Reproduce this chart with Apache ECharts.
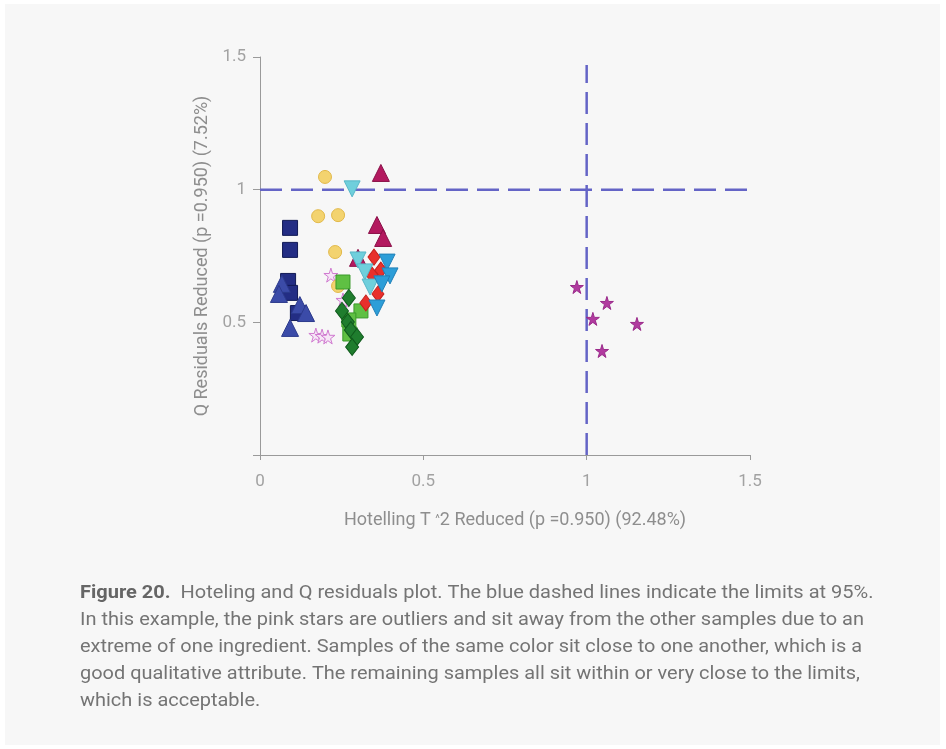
<!DOCTYPE html>
<html><head><meta charset="utf-8">
<script src="https://cdn.jsdelivr.net/npm/echarts@6/dist/echarts.min.js"></script>
<style>html,body{margin:0;padding:0;background:#fff;}#c{width:946px;height:749px;}</style>
</head><body><div id="c"></div>
<script>
// ---- data (Hotelling T^2 reduced, Q residuals reduced) ----
const navySquares = [[0.092,0.856],[0.092,0.773],[0.086,0.656],[0.092,0.611],[0.116,0.535]];
const blueTriangles = [[0.067,0.645],[0.058,0.607],[0.122,0.565],[0.141,0.535],[0.092,0.479]];
const openStars = [[0.217,0.678],[0.254,0.584],[0.171,0.452],[0.190,0.448],[0.208,0.445]];
const yellowCircles = [[0.199,1.048],[0.178,0.900],[0.239,0.904],[0.230,0.765],[0.239,0.637]];
const crimsonTriangles = [[0.370,1.063],[0.358,0.867],[0.377,0.818],[0.300,0.743]];
const cyanDownTriangles = [[0.282,1.003],[0.300,0.735],[0.321,0.690],[0.337,0.633]];
const blueDownTriangles = [[0.389,0.727],[0.398,0.675],[0.373,0.645],[0.358,0.554]];
const redDiamonds = [[0.349,0.746],[0.370,0.697],[0.343,0.678],[0.361,0.607],[0.324,0.573]];
const greenSquares = [[0.254,0.652],[0.309,0.543],[0.272,0.509],[0.275,0.456]];
const darkGreenDiamonds = [[0.272,0.592],[0.251,0.543],[0.269,0.501],[0.278,0.471],[0.297,0.445],[0.282,0.407]];
const pinkStars = [[0.970,0.633],[1.062,0.573],[1.019,0.513],[1.154,0.494],[1.047,0.392]];
const qLimit = 1.0;
const t2Limit = 1.0;
const axisTicks = [0, 0.5, 1, 1.5];
const xName = 'Hotelling T {c|^}2 Reduced (p =0.950) (92.48%)';
const yName = 'Q Residuals Reduced (p =0.950) (7.52%)';
const captionLines = [
  '{b|Figure 20.}  Hoteling and Q residuals plot. The blue dashed lines indicate the limits at 95%.',
  'In this example, the pink stars are outliers and sit away from the other samples due to an',
  'extreme of one ingredient. Samples of the same color sit close to one another, which is a',
  'good qualitative attribute. The remaining samples all sit within or very close to the limits,',
  'which is acceptable.'
];
const captionEnds = [871, 864, 862, 860, null];

const STAR = 'path://M50,0 L61,35 L98,35 L68,57 L79,91 L50,70 L21,91 L32,57 L2,35 L39,35 Z';
const FONT = 'Roboto';

function sc(data, symbol, size, color, border, extra) {
  return Object.assign({
    type: 'scatter', data: data, symbol: symbol, symbolSize: size,
    itemStyle: { color: color, borderColor: border, borderWidth: 1, opacity: 1 },
    z: 3
  }, extra || {});
}

// caption measurement
const mctx = document.createElement('canvas').getContext('2d');
const capSize = 19;
const capFont = capSize + 'px ' + FONT;
function capScale(i) {
  if (captionEnds[i] == null) return null;
  const plain = captionLines[i].replace('{b|Figure 20.}', 'Figure 20.');
  mctx.font = capFont;
  let w = mctx.measureText(plain).width;
  return (captionEnds[i] - 80) / w;
}
const scales = captionLines.map((_, i) => capScale(i));
const known = scales.filter(s => s != null);
const avgScale = known.reduce((a, b) => a + b, 0) / known.length;

const graphics = [{
  type: 'rect', left: 5, top: 4, shape: { width: 935, height: 741 },
  style: { fill: '#f7f7f7' }, z: -10, silent: true
}];
captionLines.forEach((t, i) => {
  const s = scales[i] != null ? scales[i] : avgScale;
  graphics.push({
    type: 'text', x: 80, y: 593 + i * 27, scaleX: s, z: 10,
    style: {
      text: t, font: capFont, fill: '#747474', verticalAlign: 'middle',
      rich: { b: { fontWeight: 'bold', fontSize: capSize, fontFamily: FONT, fill: '#666' } }
    }
  });
});

const chart = echarts.init(document.getElementById('c'));
chart.setOption({
  backgroundColor: '#ffffff',
  animation: false,
  graphic: graphics,
  grid: { left: 260, top: 57, right: 196, bottom: 294 },
  xAxis: {
    type: 'value', min: axisTicks[0], max: axisTicks[axisTicks.length - 1], interval: 0.5,
    name: xName, nameLocation: 'middle', nameGap: 56,
    nameTextStyle: { color: '#8e8e8e', fontSize: 18, fontFamily: FONT, padding: [0, 0, 0, 20],
      rich: { c: { fontSize: 11, color: '#8e8e8e', fontFamily: FONT, padding: [0, 0, 2, 0] } } },
    axisLine: { show: true, lineStyle: { color: '#9a9a9a', width: 1 } },
    axisTick: { show: true, length: 5, lineStyle: { color: '#9a9a9a' } },
    axisLabel: { color: '#a2a2a2', fontSize: 17, fontFamily: FONT, margin: 18,
      formatter: v => String(v) },
    splitLine: { show: false }
  },
  yAxis: {
    type: 'value', min: axisTicks[0], max: axisTicks[axisTicks.length - 1], interval: 0.5,
    name: yName, nameLocation: 'middle', nameGap: 48,
    nameTextStyle: { color: '#8e8e8e', fontSize: 18, fontFamily: FONT },
    axisLine: { show: true, lineStyle: { color: '#9a9a9a', width: 1 } },
    axisTick: { show: true, length: 7, lineStyle: { color: '#9a9a9a' } },
    axisLabel: { color: '#a2a2a2', fontSize: 17, fontFamily: FONT, margin: 14,
      formatter: v => v === 0 ? '' : String(v) },
    splitLine: { show: false }
  },
  series: [
    { type: 'line', data: [[0, qLimit], [1.5, qLimit]], symbol: 'none', z: 1,
      lineStyle: { color: '#6464c6', width: 2.5, type: [22, 9] } },
    { type: 'line', data: [[t2Limit, 0], [t2Limit, 1.47]], symbol: 'none', z: 1,
      lineStyle: { color: '#6464c6', width: 2.5, type: [22, 9] } },
    sc(navySquares, 'rect', 15, '#232d84', '#111a55'),
    sc(blueTriangles, 'triangle', 17, '#3b4ba8', '#2c3a8c'),
    sc(openStars, STAR, 14, '#f6e6f6', '#d07ad0'),
    sc(yellowCircles, 'circle', 13, '#f3d36f', '#e2b94a'),
    sc(crimsonTriangles, 'triangle', 17, '#b3195f', '#8a1048'),
    sc(greenSquares, 'rect', 14, '#5fc043', '#3a9a2a'),
    sc(darkGreenDiamonds, 'diamond', [13, 17], '#1f7d2e', '#0f5a1c'),
    sc(redDiamonds, 'diamond', [12, 16], '#e8302c', '#c41f1b'),
    sc(cyanDownTriangles, 'triangle', 16, '#6fcfdc', '#57b7c8', { symbolRotate: 180 }),
    sc(blueDownTriangles, 'triangle', 16, '#2d9ed8', '#2180b8', { symbolRotate: 180 }),
    sc(pinkStars, STAR, 13, '#b13a9f', '#9a2a8a')
  ]
});
</script></body></html>
